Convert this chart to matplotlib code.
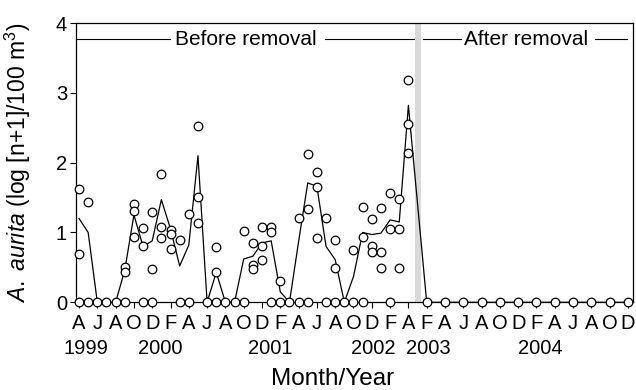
import matplotlib
matplotlib.use('Agg')
import matplotlib.pyplot as plt

plt.rcParams['font.family'] = ['Liberation Sans', 'DejaVu Sans']
plt.rcParams['mathtext.fontset'] = 'custom'
plt.rcParams['mathtext.rm'] = 'Liberation Sans'
plt.rcParams['mathtext.it'] = 'Liberation Sans:italic'

# x = month index (Apr 1999 = 0 ... Apr 2002 = 36, then Feb 2003 = 38 ... Dec 2004 = 60)
tick_months = list(range(0, 61, 2))
tick_labels = ['A', 'J', 'A', 'O', 'D', 'F', 'A', 'J', 'A', 'O', 'D', 'F', 'A', 'J', 'A', 'O', 'D', 'F', 'A',
               'F', 'A', 'J', 'A', 'O', 'D', 'F', 'A', 'J', 'A', 'O', 'D']
year_labels = ['1999', '2000', '2001', '2002', '2003', '2004']
year_pos = [0.75, 8.9, 20.9, 32.2, 38.2, 50.4]

# individual samples (non-zero)
sample_month = [0, 0, 1, 5, 5, 6, 6, 6, 7, 7, 8, 8, 9, 9, 9, 10, 10, 10, 11, 12, 13, 13, 13,
                15, 15, 18, 19, 19, 19, 20, 20, 20, 21, 21, 22, 24, 25, 25, 26, 26, 26, 27,
                28, 28, 30, 31, 31, 32, 32, 32, 33, 33, 33, 34, 34, 35, 35, 35, 36, 36, 36]
sample_value = [1.62, 0.69, 1.43, 0.50, 0.43, 1.41, 1.31, 0.93, 1.06, 0.80, 1.29, 0.48,
                1.84, 1.08, 0.92, 1.03, 0.98, 0.77, 0.89, 1.27, 2.53, 1.51, 1.14,
                0.79, 0.43, 1.02, 0.85, 0.54, 0.47, 1.08, 0.81, 0.60, 1.08, 1.00, 0.31,
                1.21, 2.12, 1.33, 1.87, 1.65, 0.92, 1.21, 0.89, 0.49, 0.75, 1.37, 0.94,
                1.20, 0.81, 0.72, 1.35, 0.72, 0.49, 1.56, 1.05, 1.48, 1.05, 0.49,
                3.18, 2.56, 2.14]

# samples with zero catch
zero_month = [0, 1, 2, 3, 4, 5, 7, 8, 11, 12, 14, 15, 16, 17, 18, 21, 22, 23, 24, 25,
              27, 28, 29, 30, 31, 34,
              38, 40, 42, 44, 46, 48, 50, 52, 54, 56, 58, 60]
zero_value = [0] * len(zero_month)

# monthly mean line
mean_month = list(range(0, 37)) + list(range(38, 61, 2))
mean_value = [1.20, 1.00, 0, 0, 0, 0.46, 1.25, 0.80, 0.88, 1.47, 1.05, 0.52, 0.82, 2.10,
              0, 0.43, 0, 0, 0.62, 0.66, 0.85, 0.88, 0.15, 0, 0.87, 1.71, 1.66, 0.80,
              0.61, 0, 0.37, 1.00, 0.97, 0.99, 1.18, 1.15, 2.82,
              0, 0, 0, 0, 0, 0, 0, 0, 0, 0, 0, 0]

fig = plt.figure(figsize=(6.36, 3.90), dpi=100)
ax = fig.add_axes([0.1195, 0.2249, 0.8758, 0.7161])

ax.axvspan(36.7, 37.35, color='#d9d9d9', lw=0, zorder=0)
ax.plot(mean_month, mean_value, color='black', lw=0.9, zorder=2, clip_on=False)
ax.plot(zero_month, zero_value, 'o', ms=6.2, mfc='white', mec='black', mew=0.9,
        zorder=3, clip_on=False)
ax.plot(sample_month, sample_value, 'o', ms=6.2, mfc='white', mec='black', mew=0.9,
        zorder=3, clip_on=False)

ax.set_xlim(-0.33, 60.55)
ax.set_ylim(0, 4)
ax.set_yticks([0, 1, 2, 3, 4])
ax.set_xticks(tick_months)
ax.set_xticklabels(tick_labels)
ax.tick_params(labelsize=14.5, length=4.5, width=0.8, direction='out')
ax.tick_params(axis='x', pad=4)
ax.tick_params(axis='y', pad=2)
for s in ax.spines.values():
    s.set_linewidth(0.9)

for yl, yp in zip(year_labels, year_pos):
    ax.text(yp, -0.165, yl, transform=ax.get_xaxis_transform(), ha='center', va='center',
            fontsize=14.5)

# period annotations
yb = 3.77
ax.plot([-0.33, 9.95], [yb, yb], color='black', lw=0.8, clip_on=False)
ax.text(18.2, yb, 'Before removal', ha='center', va='center', fontsize=15)
ax.plot([26.9, 36.6], [yb, yb], color='black', lw=0.8)
ax.plot([37.56, 41.8], [yb, yb], color='black', lw=0.8)
ax.text(48.85, yb, 'After removal', ha='center', va='center', fontsize=15)
ax.plot([56.4, 59.86], [yb, yb], color='black', lw=0.8)

ax.set_xlabel('Month/Year', fontsize=17.5)
ax.xaxis.set_label_coords(0.46, -0.235)
ax.set_ylabel(r'$\mathit{A.\ aurita}$ (log [n+1]/100 m$^{3}$)', fontsize=16.5)
ax.yaxis.set_label_coords(-0.077, 0.5)

fig.savefig('out.png', dpi=100)
